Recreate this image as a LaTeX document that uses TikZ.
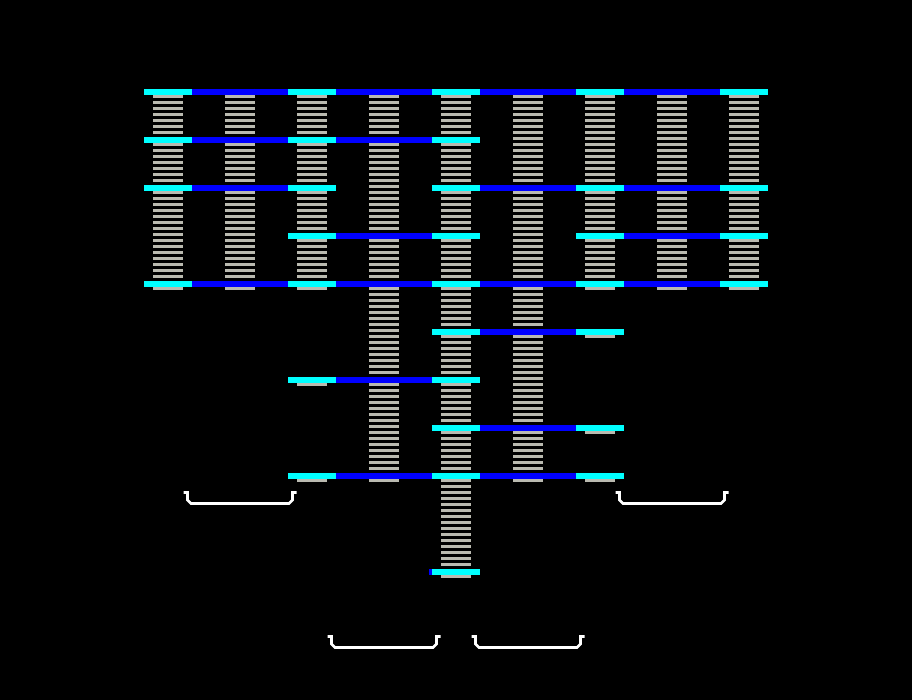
\documentclass[tikz,border=0pt]{standalone}
\pgfdeclarelayer{bg}
\pgfdeclarelayer{mid}
\pgfsetlayers{bg,mid,main}
\definecolor{stripegray}{RGB}{186,186,176}
\definecolor{barcyan}{RGB}{0,255,255}
\definecolor{linkblue}{RGB}{0,0,255}
\tikzset{
  bar/.style={rectangle, fill=barcyan, draw=none, minimum width=48pt, minimum height=6pt, inner sep=0pt, outer sep=0pt},
  link/.style={draw=linkblue, line width=6pt},
  stripes/.style={draw=stripegray, line width=30pt, dash pattern=on 3pt off 3pt},
  tray/.style={draw=white, line width=2.6pt, line join=miter}
}
\begin{document}
\begin{tikzpicture}[x=1pt,y=-1pt]
\begin{pgfonlayer}{bg}
  \fill[black] (0,0) rectangle (912,700);
\end{pgfonlayer}
\useasboundingbox (0,0) rectangle (912,700);
% cyan bars
\foreach \r/\c in {0/0,0/2,0/4,0/6,0/8,
                   1/0,1/2,1/4,
                   2/0,2/2,2/4,2/6,2/8,
                   3/2,3/4,3/6,3/8,
                   4/0,4/2,4/4,4/6,4/8,
                   5/4,5/6,
                   6/2,6/4,
                   7/4,7/6,
                   8/2,8/4,8/6,
                   10/4}
  \node[bar] (b\r-\c) at ({168+72*\c},{92+48*\r}) {};
% striped columns
\begin{pgfonlayer}{mid}
\foreach \c/\a/\b in {0/0/4,1/0/4,2/0/4,2/6/6,2/8/8,3/0/8,4/0/10,5/0/8,
                      6/0/4,6/5/5,6/7/7,6/8/8,7/0/4,8/0/4}
  \draw[stripes] ({168+72*\c},{89+48*\a}) -- ({168+72*\c},{98+48*\b});
\end{pgfonlayer}
% blue links
\draw[link] (b0-0) -- (b0-2);
\draw[link] (b0-2) -- (b0-4);
\draw[link] (b0-4) -- (b0-6);
\draw[link] (b0-6) -- (b0-8);
\draw[link] (b1-0) -- (b1-2);
\draw[link] (b1-2) -- (b1-4);
\draw[link] (b2-0) -- (b2-2);
\draw[link] (b2-4) -- (b2-6);
\draw[link] (b2-6) -- (b2-8);
\draw[link] (b3-2) -- (b3-4);
\draw[link] (b3-6) -- (b3-8);
\draw[link] (b4-0) -- (b4-2);
\draw[link] (b4-2) -- (b4-4);
\draw[link] (b4-4) -- (b4-6);
\draw[link] (b4-6) -- (b4-8);
\draw[link] (b5-4) -- (b5-6);
\draw[link] (b6-2) -- (b6-4);
\draw[link] (b7-4) -- (b7-6);
\draw[link] (b8-2) -- (b8-4);
\draw[link] (b8-4) -- (b8-6);
\coordinate (s10) at (429,572);
\draw[link] (s10) -- (b10-4);
% trays
\foreach \cx/\y in {240/491,672/491,384/635,528/635}
  \draw[tray] ({\cx-56.5},{\y+1.5}) -- ({\cx-52.5},{\y+1.5}) -- ({\cx-52.5},{\y+9})
     -- ({\cx-49},{\y+12.5}) -- ({\cx+49},{\y+12.5}) -- ({\cx+52.5},{\y+9})
     -- ({\cx+52.5},{\y+1.5}) -- ({\cx+56.5},{\y+1.5});
\end{tikzpicture}
\end{document}
